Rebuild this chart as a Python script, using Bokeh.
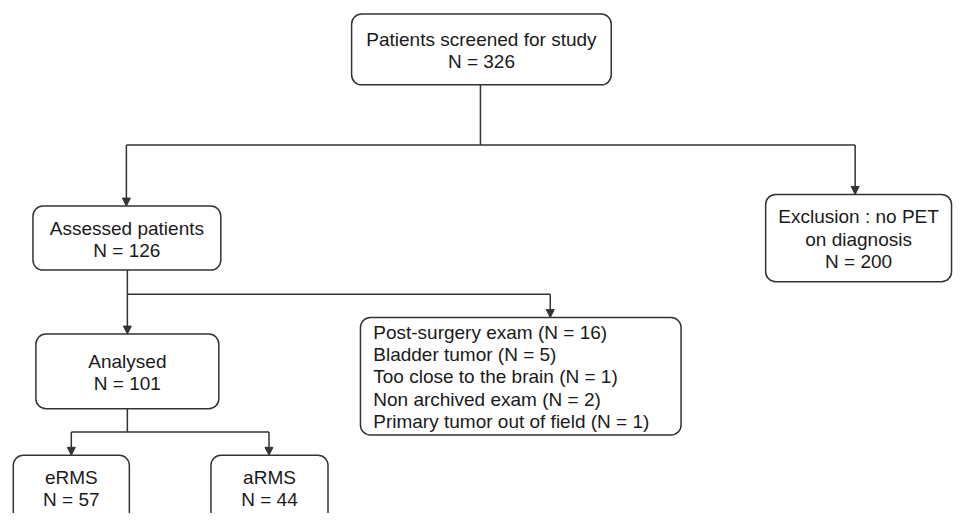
from bokeh.plotting import figure
from bokeh.models import Range1d, Arrow, NormalHead
from bokeh.core.properties import value
from bokeh.embed import file_html
from bokeh.resources import INLINE

# ---- data ----
stage_titles = [["Patients screened for study"], ["Assessed patients"],
                ["Exclusion : no PET", "on diagnosis"], ["Analysed"], ["eRMS"], ["aRMS"]]
stage_counts = [326, 126, 200, 101, 57, 44]
excl_reasons = ["Post-surgery exam", "Bladder tumor", "Too close to the brain",
                "Non archived exam", "Primary tumor out of field"]
excl_counts = [16, 5, 1, 2, 1]

# ---- layout (pixel-like units, y downward) ----
boxes = [  # left, right, top, bottom, first text line y
    (357, 621, 14, 87, 40),
    (33, 224, 212, 278, 235),
    (778, 967, 200, 290, 223),
    (36, 222, 344, 421, 372),
    (13, 131, 469, 545, 492),
    (214, 333, 469, 545, 492),
]
excl_box = (366, 692, 327, 448, 342)
line_step = 23
segments = [((488, 87), (488, 149)), ((128, 149), (869, 149)),
            ((129, 278), (129, 303)), ((129, 303), (559, 303)),
            ((129, 421), (129, 445)), ((72, 445), (273, 445))]
arrows = [((128, 149), (128, 212)), ((869, 149), (869, 200)),
          ((559, 303), (559, 327)), ((129, 303), (129, 344)),
          ((72, 445), (72, 469)), ((273, 445), (273, 469))]

LINE = "#333333"
TXT = "#1a1a1a"
FONT = value("Liberation Sans")
FS = value("19px")

p = figure(width=953, height=513, output_backend="svg", toolbar_location=None,
           x_range=Range1d(0, 969), y_range=Range1d(-529, 0),
           min_border=0, outline_line_color=None)
p.axis.visible = False
p.grid.visible = False
p.background_fill_color = "white"

# boxes
allb = boxes + [excl_box]
p.quad(left=[b[0] for b in allb], right=[b[1] for b in allb],
       top=[-b[2] for b in allb], bottom=[-b[3] for b in allb],
       fill_color="white", line_color=LINE, line_width=1.5, border_radius=10)

# centered texts
tx, ty, tt = [], [], []
for (l, r, t, b, y0), title, n in zip(boxes, stage_titles, stage_counts):
    lines = title + [f"N = {n}"]
    for i, s in enumerate(lines):
        tx.append((l + r) / 2)
        ty.append(-(y0 + i * line_step))
        tt.append(s)
p.text(x=tx, y=ty, text=tt, text_align="center", text_baseline="middle",
       text_font=FONT, text_font_size=FS, text_color=TXT)

# exclusion list
ex_l, ex_r, ex_t, ex_b, ex_y0 = excl_box
ex_text = [f"{r} (N = {c})" for r, c in zip(excl_reasons, excl_counts)]
p.text(x=[ex_l + 13] * len(ex_text), y=[-(ex_y0 + i * line_step) for i in range(len(ex_text))],
       text=ex_text, text_align="left", text_baseline="middle",
       text_font=FONT, text_font_size=FS, text_color=TXT)

# connectors
p.segment(x0=[s[0][0] for s in segments], y0=[-s[0][1] for s in segments],
          x1=[s[1][0] for s in segments], y1=[-s[1][1] for s in segments],
          line_color=LINE, line_width=1.5)
for (x0, y0), (x1, y1) in arrows:
    p.add_layout(Arrow(x_start=x0, y_start=-y0, x_end=x1, y_end=-y1,
                       line_color=LINE, line_width=1.5,
                       end=NormalHead(size=8, fill_color=LINE, line_color=LINE, line_width=1)))

open("out.html", "w").write(file_html(p, INLINE))
